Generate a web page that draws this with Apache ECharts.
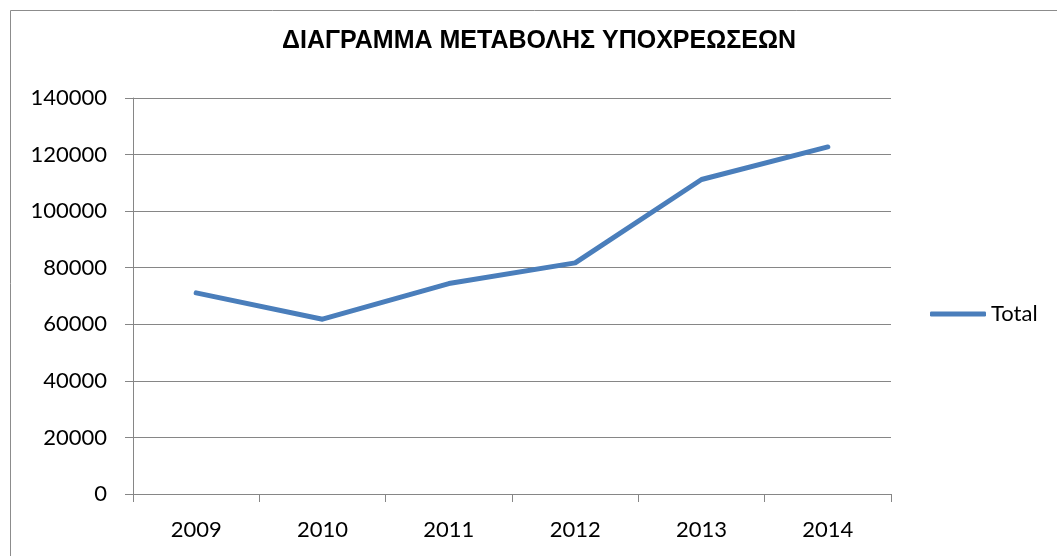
<!DOCTYPE html>
<html>
<head>
<meta charset="utf-8">
<script src="https://cdn.jsdelivr.net/npm/echarts@6/dist/echarts.min.js"></script>
<style>
  html, body { margin: 0; padding: 0; background: #fff; }
  #main { width: 1057px; height: 556px; }
</style>
</head>
<body>
<div id="main"></div>
<script>
// στοιχεία του διαγράμματος
var years = ['2009', '2010', '2011', '2012', '2013', '2014'];
var totals = [71100, 61800, 74400, 81700, 111200, 122700];
var seriesName = 'Total';
var chartTitle = 'ΔΙΑΓΡΑΜΜΑ ΜΕΤΑΒΟΛΗΣ ΥΠΟΧΡΕΩΣΕΩΝ';

var myChart = echarts.init(document.getElementById('main'));
var axisColor = '#868686';
var labelFont = 'Lato, "Open Sans", sans-serif';

var option = {
  backgroundColor: '#fff',
  animation: false,
  graphic: [{
    type: 'rect',
    shape: { x: 10.5, y: 10.5, width: 1100, height: 600 },
    style: { fill: 'none', stroke: '#8c8c8c', lineWidth: 1 },
    silent: true
  }],
  title: {
    text: chartTitle,
    left: 539,
    top: 29,
    padding: 0,
    textAlign: 'center',
    textStyle: {
      fontFamily: '"Liberation Sans", Arial, sans-serif',
      fontWeight: 'bold',
      fontSize: 25,
      color: '#000'
    }
  },
  legend: {
    data: [seriesName],
    left: 930,
    top: 303,
    padding: 0,
    itemWidth: 56,
    itemHeight: 5,
    icon: 'roundRect',
    textStyle: { fontFamily: labelFont, fontSize: 22, color: '#000' }
  },
  grid: { left: 133, right: 166, top: 98, bottom: 62 },
  xAxis: {
    type: 'category',
    data: years,
    boundaryGap: true,
    axisLine: { lineStyle: { color: axisColor, width: 1 } },
    axisTick: { show: true, length: 8, lineStyle: { color: axisColor } },
    axisLabel: { fontFamily: labelFont, fontSize: 22, color: '#000', margin: 25 }
  },
  yAxis: {
    type: 'value',
    min: 0,
    max: 140000,
    interval: 20000,
    axisLine: { show: true, lineStyle: { color: axisColor, width: 1 } },
    axisTick: { show: true, length: 8, lineStyle: { color: axisColor } },
    axisLabel: {
      fontFamily: labelFont, fontSize: 22, color: '#000', margin: 26,
      formatter: function (v) { return String(v); }
    },
    splitLine: { lineStyle: { color: axisColor, width: 1 } }
  },
  series: [{
    name: seriesName,
    type: 'line',
    data: totals,
    symbol: 'none',
    lineStyle: { color: '#4a7ebb', width: 5, cap: 'round', join: 'round' },
    itemStyle: { color: '#4a7ebb' }
  }]
};
myChart.setOption(option);
</script>
</body>
</html>
